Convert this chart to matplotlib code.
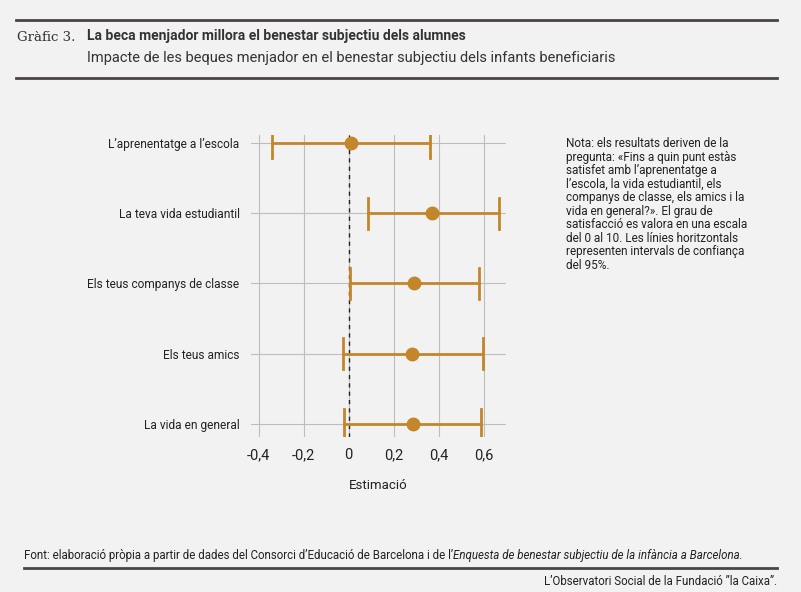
import matplotlib.pyplot as plt
from matplotlib.lines import Line2D

labels = ["L’aprenentatge a l’escola", "La teva vida estudiantil", "Els teus companys de classe",
          "Els teus amics", "La vida en general"]
estimates = [0.01, 0.37, 0.29, 0.28, 0.285]
ci_low = [-0.34, 0.085, 0.005, -0.025, -0.02]
ci_high = [0.36, 0.67, 0.58, 0.595, 0.59]
xticks = [-0.4, -0.2, 0, 0.2, 0.4, 0.6]
xticklabels = ["-0,4", "-0,2", "0", "0,2", "0,4", "0,6"]

bg = "#f2f2f2"
gold = "#c4862a"
dark = "#4a4544"
plt.rcParams['font.family'] = ['Roboto', 'DejaVu Sans']

fig = plt.figure(figsize=(8.01, 5.92), dpi=100, facecolor=bg)
ax = fig.add_axes([0.313, 0.262, 0.319, 0.510], facecolor=bg)

ypos = list(range(len(labels)))
for y, e, lo, hi in zip(ypos, estimates, ci_low, ci_high):
    ax.plot([lo, hi], [y, y], color=gold, lw=2, zorder=3)
    ax.plot([lo, lo], [y - 0.22, y + 0.22], color=gold, lw=2, zorder=3)
    ax.plot([hi, hi], [y - 0.22, y + 0.22], color=gold, lw=2, zorder=3)
    ax.plot(e, y, 'o', color=gold, ms=9, zorder=4)
ax.axvline(0, color="#222222", lw=1, ls=(0, (3, 3)), zorder=2)

ax.set_xlim(-0.435, 0.7)
ax.set_ylim(4.18, -0.11)
ax.set_xticks(xticks)
ax.set_xticklabels(xticklabels, fontsize=10.5, color="#222222")
ax.set_yticks(ypos)
ax.set_yticklabels(labels, fontsize=8.6, color="#222222")
ax.tick_params(length=0, pad=8)
ax.grid(True, color="#bdbdbd", lw=0.8)
for s in ax.spines.values():
    s.set_visible(False)
ax.set_xlabel("Estimació", fontsize=9.5, color="#222222", labelpad=12)

fig.add_artist(Line2D([0.02, 0.97], [0.966, 0.966], color=dark, lw=2))
fig.add_artist(Line2D([0.02, 0.97], [0.868, 0.868], color=dark, lw=2))
fig.text(0.021, 0.937, "Gràfic 3.", fontsize=9.5, family="serif", color="#333333", va="center")
fig.text(0.109, 0.939, "La beca menjador millora el benestar subjectiu dels alumnes", fontsize=10,
         weight="bold", color="#333333", va="center")
fig.text(0.109, 0.902, "Impacte de les beques menjador en el benestar subjectiu dels infants beneficiaris",
         fontsize=10.5, color="#333333", va="center")

nota = ("Nota: els resultats deriven de la\npregunta: «Fins a quin punt estàs\nsatisfet amb l’aprenentatge a\n"
        "l’escola, la vida estudiantil, els\ncompanys de classe, els amics i la\nvida en general?». El grau de\n"
        "satisfacció es valora en una escala\ndel 0 al 10. Les línies horitzontals\nrepresenten intervals de confiança\n"
        "del 95%.")
fig.text(0.706, 0.768, nota, fontsize=8.5, color="#222222", va="top", linespacing=1.05)

t1 = fig.text(0.03, 0.062, "Font: elaboració pròpia a partir de dades del Consorci d’Educació de Barcelona i de l’",
              fontsize=8.3, color="#222222", va="center")
fig.canvas.draw()
bb = t1.get_window_extent().transformed(fig.transFigure.inverted())
fig.text(bb.x1, 0.062, "Enquesta de benestar subjectiu de la infància a Barcelona.", fontsize=8.3,
         style="italic", color="#222222", va="center")
fig.add_artist(Line2D([0.03, 0.97], [0.04, 0.04], color=dark, lw=2))
fig.text(0.97, 0.018, "L’Observatori Social de la Fundació ”la Caixa”.", fontsize=8.3, color="#222222",
         ha="right", va="center")

fig.savefig("out.png", dpi=100, facecolor=bg)
